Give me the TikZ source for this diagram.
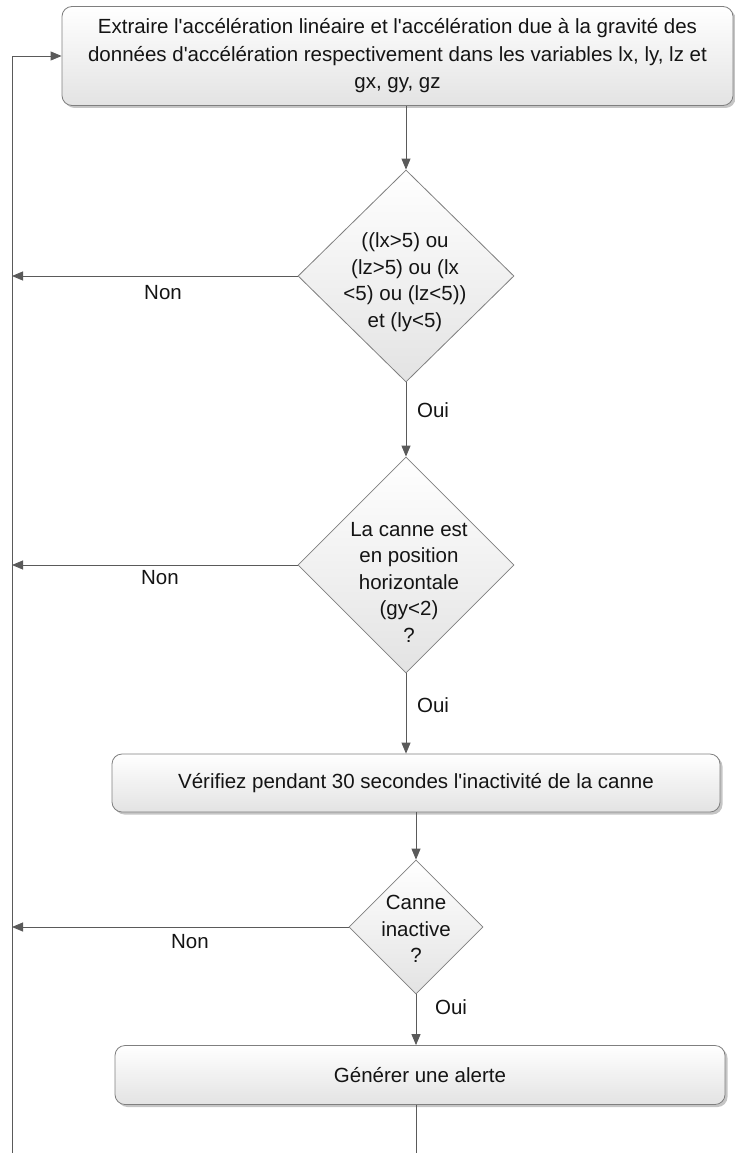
\documentclass[tikz,border=0pt]{standalone}
\usepackage{fontspec}
\setmainfont{Liberation Sans}
\usetikzlibrary{shapes.geometric,arrows.meta,shadows}
\definecolor{linec}{HTML}{5A5A5A}
\definecolor{bordc}{HTML}{7F7F7F}
\definecolor{textc}{HTML}{141414}
\newcommand{\ap}{\textquotesingle}
\begin{document}
\begin{tikzpicture}[x=1pt,y=-1pt,
  procbox/.style={draw=bordc, line width=0.8pt, rounded corners=10pt,
    top color=white, bottom color=black!11,
    drop shadow={shadow xshift=2.5pt, shadow yshift=-2.5pt, fill=black!45, opacity=0.5},
    inner sep=0pt, align=center, text=textc, font=\fontsize{20.5}{27.5}\selectfont},
  decision/.style={diamond, draw=bordc, line width=0.8pt, inner sep=0pt,
    top color=white, bottom color=black!11},
  dtext/.style={align=center, text=textc, inner sep=0pt, font=\fontsize{20.5}{26.5}\selectfont},
  lbl/.style={text=textc, inner sep=0pt, font=\fontsize{20.5}{24}\selectfont},
  conn/.style={draw=linec, line width=0.9pt},
  arr/.style={conn, -{Triangle[length=11pt,width=9pt]}}
]
\useasboundingbox (0,0) rectangle (735,1153);

% process boxes
\node[procbox, minimum width=671pt, minimum height=99pt] (top) at (397.5,56)
  {Extraire l\ap acc\'el\'eration lin\'eaire et l\ap acc\'el\'eration due \`a la gravit\'e des\\
   donn\'ees d\ap acc\'el\'eration respectivement dans les variables lx, ly, lz et\\
   gx, gy, gz};
\node[procbox, minimum width=608pt, minimum height=58pt] (verif) at (416,783)
  {V\'erifiez pendant 30 secondes l\ap inactivit\'e de la canne};
\node[procbox, minimum width=610pt, minimum height=59pt] (alerte) at (420,1075)
  {G\'en\'erer une alerte};

% decisions
\node[decision, minimum width=216pt, minimum height=212pt] (d1) at (406,276) {};
\node[dtext] (t1) at (405,282) {((lx>5) ou\\(lz>5) ou (lx\\<5) ou (lz<5))\\et (ly<5)};
\node[decision, minimum width=216pt, minimum height=216pt] (d2) at (406,565) {};
\node[dtext] (t2) at (409,582) {La canne est\\en position\\horizontale\\(gy<2)\\?};
\node[decision, minimum width=134pt, minimum height=134pt] (d3) at (416,927) {};
\node[dtext] (t3) at (416,929) {Canne\\inactive\\?};

% loop line coordinates
\coordinate (lb) at (12,1153);
\coordinate (eb) at (416,1153);

% main flow
\draw[arr] (top.south -| d1.north) -- (d1.north);
\draw[arr] (d1.south) -- (d2.north);
\draw[arr] (d2.south) -- (d2.south |- verif.north);
\draw[arr] (verif.south -| d3.north) -- (d3.north);
\draw[arr] (d3.south) -- (d3.south |- alerte.north);
\draw[conn] (alerte.south -| eb) -- (eb);

% loop back
\draw[arr] (lb) |- (top.west);
\draw[arr] (d1.west) -- (d1.west -| lb);
\draw[arr] (d2.west) -- (d2.west -| lb);
\draw[arr] (d3.west) -- (d3.west -| lb);

% labels
\node[lbl] (n1) at (163,293) {Non};
\node[lbl] (n2) at (160,578) {Non};
\node[lbl] (n3) at (190,942) {Non};
\node[lbl] (o1) at (433,410) {Oui};
\node[lbl] (o2) at (433,705) {Oui};
\node[lbl] (o3) at (451,1007) {Oui};
\end{tikzpicture}
\end{document}
